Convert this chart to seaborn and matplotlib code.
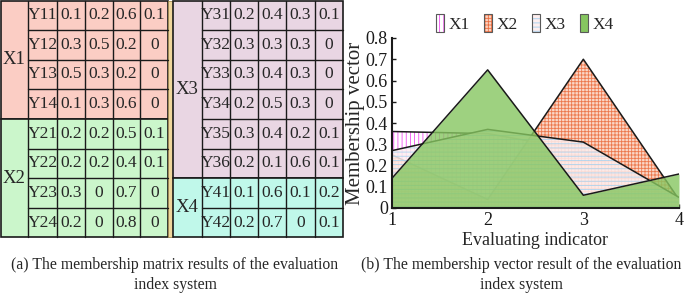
import numpy as np
import pandas as pd
import seaborn as sns
import matplotlib.pyplot as plt
from matplotlib.patches import Rectangle, Patch
from matplotlib.legend_handler import HandlerTuple

# (a) membership matrix of the evaluation index system
x1_rows = ['Y11', 'Y12', 'Y13', 'Y14']
x1_vals = [[0.1, 0.2, 0.6, 0.1], [0.3, 0.5, 0.2, 0], [0.5, 0.3, 0.2, 0], [0.1, 0.3, 0.6, 0]]
x2_rows = ['Y21', 'Y22', 'Y23', 'Y24']
x2_vals = [[0.2, 0.2, 0.5, 0.1], [0.2, 0.2, 0.4, 0.1], [0.3, 0, 0.7, 0], [0.2, 0, 0.8, 0]]
x3_rows = ['Y31', 'Y32', 'Y33', 'Y34', 'Y35', 'Y36']
x3_vals = [[0.2, 0.4, 0.3, 0.1], [0.3, 0.3, 0.3, 0], [0.3, 0.4, 0.3, 0],
           [0.2, 0.5, 0.3, 0], [0.3, 0.4, 0.2, 0.1], [0.2, 0.1, 0.6, 0.1]]
x4_rows = ['Y41', 'Y42']
x4_vals = [[0.1, 0.6, 0.1, 0.2], [0.2, 0.7, 0, 0.1]]

# (b) membership vectors
indicators = [1, 2, 3, 4]
vec_x1 = [0.36, 0.35, 0.27, 0.02]
vec_x2 = [0.25, 0.04, 0.70, 0.04]
vec_x3 = [0.27, 0.37, 0.31, 0.05]
vec_x4 = [0.14, 0.65, 0.06, 0.16]

sns.set_theme(style="ticks")
plt.rcParams['font.family'] = ['Liberation Serif', 'DejaVu Serif']
plt.rcParams['hatch.linewidth'] = 0.6
plt.rcParams['xtick.direction'] = 'in'
plt.rcParams['ytick.direction'] = 'in'

W, H = 685, 296
fig = plt.figure(figsize=(W / 100, H / 100), dpi=100)

# ---- table panel, drawn in pixel coordinates
tab = fig.add_axes([0, 0, 1, 1])
tab.set_xlim(0, W)
tab.set_ylim(H, 0)
tab.axis('off')

row_h = 29.6


def draw_block(x0, col_w, blocks):
    y = 0.5
    for name, rows, vals, color in blocks:
        n = len(rows)
        total_w = col_w[0] + col_w[1] + 4 * col_w[2]
        tab.add_patch(Rectangle((x0, y), total_w, n * row_h, facecolor=color,
                                edgecolor='k', lw=1.2))
        tab.plot([x0 + col_w[0]] * 2, [y, y + n * row_h], color='k', lw=1)
        tab.text(x0 + col_w[0] / 2, y + n * row_h / 2, name, ha='center',
                 va='center', fontsize=13.5)
        for i, (r, v) in enumerate(zip(rows, vals)):
            ry = y + i * row_h
            if i > 0:
                tab.plot([x0 + col_w[0], x0 + total_w], [ry, ry], color='k', lw=1)
            cx = x0 + col_w[0]
            tab.text(cx + col_w[1] / 2, ry + row_h / 2, r, ha='center',
                     va='center', fontsize=12.5)
            cx += col_w[1]
            for val in v:
                tab.plot([cx, cx], [ry, ry + row_h], color='k', lw=1)
                tab.text(cx + col_w[2] / 2, ry + row_h / 2, '0' if val == 0 else f'{val:g}',
                         ha='center', va='center', fontsize=12.5)
                cx += col_w[2]
        y += n * row_h


draw_block(0.5, [28, 28.5, 27.8], [('X1', x1_rows, x1_vals, '#fbcdc4'),
                                   ('X2', x2_rows, x2_vals, '#cbf6cb')])
tab.add_patch(Rectangle((168.5, 0.5), 4.5, 8 * row_h, facecolor='#efd69c',
                        edgecolor='#a08850', lw=0.6))
draw_block(173, [29, 28, 28.2], [('X3', x3_rows, x3_vals, '#e9d6e3'),
                                 ('X4', x4_rows, x4_vals, '#c0f8ea')])

cap_fs = 11.3
tab.text(175, 265, '(a) The membership matrix results of the evaluation',
         ha='center', va='center', fontsize=cap_fs)
tab.text(175, 285, 'index system', ha='center', va='center', fontsize=cap_fs)
tab.text(521, 265, '(b) The membership vector result of the evaluation',
         ha='center', va='center', fontsize=cap_fs)
tab.text(521, 285, 'index system', ha='center', va='center', fontsize=cap_fs)

# ---- area chart
ax = fig.add_axes([392 / W, 88 / H, 287 / W, 170 / H])
series = [
    ('X1', vec_x1, 'white', '||||', '#f050f0', 1.0),
    ('X2', vec_x2, '#fbd2c0', '+++++', '#eb6e40', 0.9),
    ('X3', vec_x3, '#fdeeee', '----', '#9fd0f0', 0.85),
    ('X4', vec_x4, '#86c660', None, '#86c660', 0.8),
]
handles = []
for k, (name, vals, face, hatch, hcol, alpha) in enumerate(series):
    ax.fill_between(indicators, vals, facecolor=face, hatch=hatch, edgecolor=hcol,
                    linewidth=0, alpha=alpha, zorder=2 * k + 1)
    df = pd.DataFrame({'indicator': indicators, 'value': vals})
    sns.lineplot(data=df, x='indicator', y='value', color='k', lw=1.1, ax=ax,
                 zorder=2 * k + 2)
    handles.append((Patch(facecolor=face, hatch=hatch, edgecolor=hcol, lw=0),
                    Patch(facecolor='none', edgecolor='0.35', lw=0.8)))

ax.set_xlim(1, 4)
ax.set_ylim(0, 0.8)
ax.set_xticks(indicators)
ax.set_xticklabels([str(i) for i in indicators])
yt = np.round(np.arange(0, 0.81, 0.1), 1)
ax.set_yticks(yt)
ax.set_yticklabels(['0' if t == 0 else f'{t:g}' for t in yt])
ax.tick_params(labelsize=13, length=3, width=1, pad=3, colors='k')
ax.set_xlabel('Evaluating indicator', fontsize=13)
ax.xaxis.set_label_coords(0.5, -0.14)
ax.set_ylabel('Membership vector', fontsize=15)
ax.yaxis.set_label_coords(-0.095, 0.5)
sns.despine(ax=ax)
for s in ['left', 'bottom']:
    ax.spines[s].set_linewidth(1.5)
    ax.spines[s].set_color('k')
    ax.spines[s].set_zorder(20)

fig.legend(handles, ['X1', 'X2', 'X3', 'X4'], loc='upper center',
           bbox_to_anchor=(525 / W, 1.005), ncol=4, frameon=False,
           handlelength=0.45, handleheight=1.2, handletextpad=0.3,
           columnspacing=0.8, fontsize=12.5,
           handler_map={tuple: HandlerTuple(ndivide=1)})

fig.savefig('out.png', dpi=100)
